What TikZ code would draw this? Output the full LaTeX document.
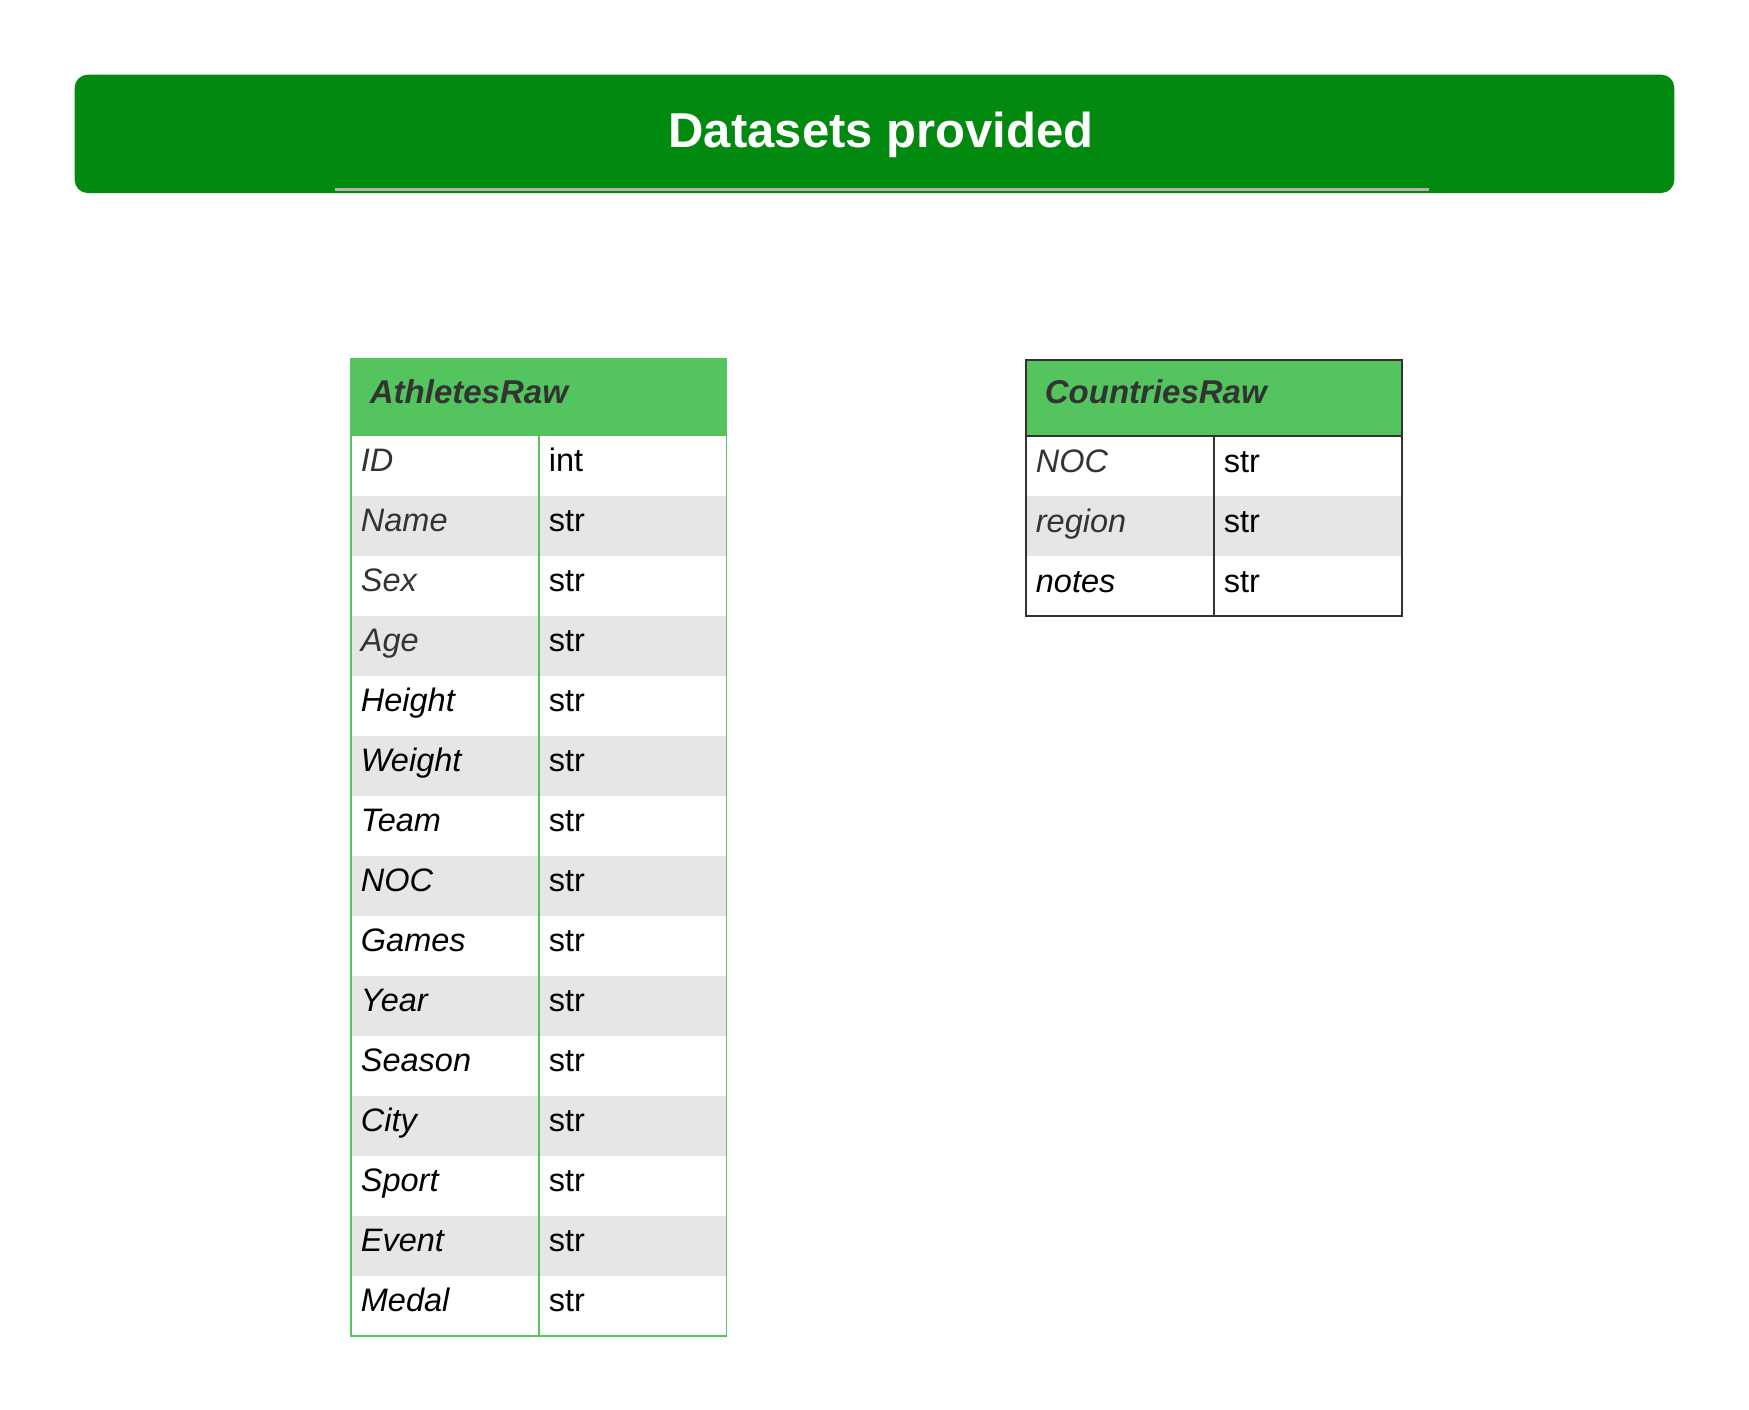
\documentclass[tikz,border=0pt]{standalone}
\usepackage{fontspec}
\setmainfont{Liberation Sans}
\usetikzlibrary{positioning}
\definecolor{bannergreen}{HTML}{02890F}
\definecolor{headgreen}{HTML}{54C45E}
\definecolor{rowgray}{HTML}{E6E6E6}
\definecolor{lblgray}{HTML}{333333}
\definecolor{rulegray}{HTML}{B3B3B3}
\begin{document}
\begin{tikzpicture}[x=1pt,y=-1pt]
    \tikzstyle{banner}=[rectangle,rounded corners=13,fill=bannergreen,minimum width=1599.6,minimum height=118.3,inner sep=0]
    \tikzstyle{tblhead}=[rectangle,fill=headgreen,anchor=north west,minimum width=375,minimum height=76.5,inner xsep=19,inner ysep=0,text width=337,align=left,text height=24,text depth=12.5,text=lblgray,font=\bfseries\itshape\fontsize{33}{38}\selectfont]
    \tikzstyle{cell}=[rectangle,minimum width=187.5,minimum height=60,inner xsep=10,inner ysep=0,text width=167.5,align=left,text height=21,text depth=9,font=\fontsize{32.5}{36}\selectfont]
    \tikzstyle{keycell}=[cell,anchor=north west,font=\itshape\fontsize{32.5}{36}\selectfont]
    \tikzstyle{athline}=[draw=headgreen,line width=1.6]
    \tikzstyle{ctyline}=[draw=lblgray,line width=2]
    \useasboundingbox (0,0) rectangle (1749,1410);
    % title bar
    \node [banner] (banner) at (874.5,133.85) {};
    \node [anchor=base,text=white,font=\bfseries\fontsize{49}{54}\selectfont] (title) at (881,148) {Datasets provided};
    \draw [rulegray,line width=3] (334.6,189.5) -- (1428.8,189.5);
    % AthletesRaw
    \node [tblhead] (aHead) at (350.7,359) {AthletesRaw};
    \foreach \n/\t/\c/\f [count=\i] in {ID/int/lblgray/white,Name/str/lblgray/rowgray,Sex/str/lblgray/white,Age/str/lblgray/rowgray,Height/str/black/white,Weight/str/black/rowgray,Team/str/black/white,NOC/str/black/rowgray,Games/str/black/white,Year/str/black/rowgray,Season/str/black/white,City/str/black/rowgray,Sport/str/black/white,Event/str/black/rowgray,Medal/str/black/white} {
        \node [keycell,fill=\f,text=\c] (aK\i) at ({350.7},{435.5+60*(\i-1)}) {\n};
        \node [cell,right=0pt of aK\i,fill=\f] (aT\i) {\t};
    }
    \draw [athline] (aHead.north west) rectangle (aT15.south east);
    \draw [athline,line width=2] (aK1.north east) -- (aK15.south east);
    % CountriesRaw
    \node [tblhead] (cHead) at (1025.7,359.5) {CountriesRaw};
    \foreach \n/\t/\c/\f [count=\i] in {NOC/str/lblgray/white,region/str/lblgray/rowgray,notes/str/black/white} {
        \node [keycell,fill=\f,text=\c] (cK\i) at ({1025.7},{436+60*(\i-1)}) {\n};
        \node [cell,right=0pt of cK\i,fill=\f] (cT\i) {\t};
    }
    \draw [ctyline] (cHead.north west) rectangle (cT3.south east);
    \draw [ctyline] (cK1.north west) -- (cT1.north east);
    \draw [ctyline] (cK1.north east) -- (cK3.south east);
\end{tikzpicture}
\end{document}
